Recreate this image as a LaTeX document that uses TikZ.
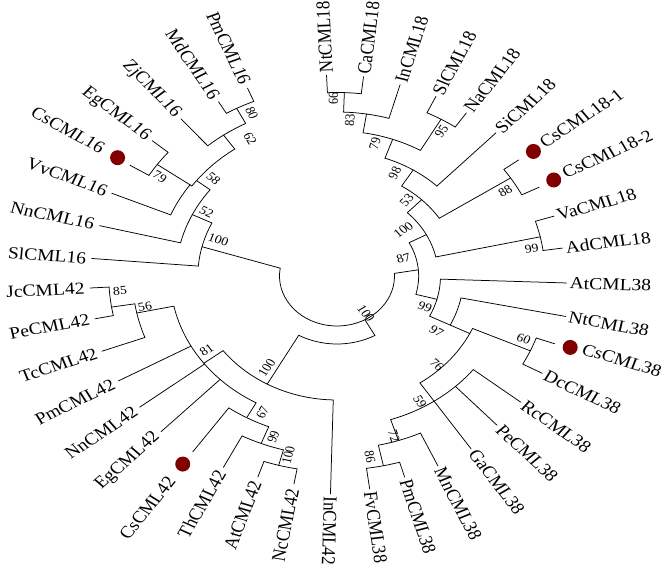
\documentclass[tikz,border=0pt]{standalone}
\usepackage{fontspec}
\setmainfont{Liberation Serif}
\definecolor{dotred}{RGB}{128,0,0}

\begin{document}
\begin{tikzpicture}[
	x=1pt, y=1pt,
	branch/.style={line width=0.75pt, draw=black, line cap=round},
	lab/.style={font=\fontsize{17}{17}\selectfont, transform shape},
	leafR/.style={lab, anchor=west, inner sep=2.5pt, rotate=#1},
	leafL/.style={lab, anchor=east, inner sep=4.5pt, rotate=#1+180},
	boot/.style={font=\fontsize{12}{12}\selectfont, transform shape, inner sep=0pt, rotate=#1},
	bootL/.style={boot=#1+180},
	dot/.style={circle, fill=dotred, inner sep=0pt, minimum size=15pt}
]
\useasboundingbox (0,0) rectangle (664,568);

\begin{scope}[shift={(337,292)}, xscale=1.15, branch]

% Root
\draw (171:50) arc[start angle=171, end angle=363, radius=50];

% CML16
\draw (171:50) -- (166:121);
\draw (154:121) arc[start angle=154, end angle=175.3, radius=121];
\draw (175.3:121) -- (175.3:214);
\draw (154:121) -- (154:140);
\draw (142:140) arc[start angle=142, end angle=166.3, radius=140];
\draw (166.3:140) -- (166.3:212.5);
\draw (142:140) -- (142:155);
\draw (125:155) arc[start angle=125, end angle=144.5, radius=155];
\draw (144.5:155) -- (144.5:157);
\draw (144.5:157) arc[start angle=144.5, end angle=157.1, radius=157];
\draw (157.1:157) -- (157.1:212.6);
\draw (144.5:157) -- (144.5:192);
\draw (139.9:192) arc[start angle=139.9, end angle=148.4, radius=192];
\draw (148.4:192) -- (148.4:211.5);
\draw (139.9:192) -- (139.9:210);
\draw (125:155) -- (125:172);
\draw (117.5:172) arc[start angle=117.5, end angle=130.8, radius=172];
\draw (130.8:172) -- (130.8:207.7);
\draw (117.5:172) -- (117.5:189);
\draw (112.5:189) arc[start angle=112.5, end angle=120.6, radius=189];
\draw (120.6:189) -- (120.6:202.4);
\draw (112.5:189) -- (112.5:203.3);

\node[leafL=175.3] (slcml16) at (175.3:214) {SlCML16};
\node[leafL=166.3] (nncml16) at (166.3:212.5) {NnCML16};
\node[leafL=157.1] (vvcml16) at (157.1:212.6) {VvCML16};
\node[dot] (dotcs16) at (148.2:224.5) {};
\node[leafL=148] (cscml16) at (148:235) {CsCML16};
\node[leafL=139.9] (egcml16) at (139.9:210) {EgCML16};
\node[leafL=130.8] (zjcml16) at (130.8:207.7) {ZjCML16};
\node[leafL=120.6] (mdcml16) at (120.6:202.4) {MdCML16};
\node[leafL=112.5] (pmcml16) at (112.5:203.3) {PmCML16};

\node[bootL=160.8] (bs16a) at (160.8:109.3) {100};
\node[bootL=150.4] (bs16b) at (150.4:130.3) {52};
\node[bootL=137.7] (bs16c) at (137.7:145.2) {58};
\node[bootL=147.2] (bs16d) at (147.2:183.2) {79};
\node[bootL=118.8] (bs16e) at (118.8:157) {62};
\node[bootL=114.5] (bs16f) at (114.5:178.8) {80};

% CML18
\draw (3:50) -- (5:71);
\draw (-15:71) arc[start angle=-15, end angle=28, radius=71];
\draw (28:71) -- (28:88);
\draw (12.5:88) arc[start angle=12.5, end angle=46, radius=88];
\draw (12.5:88) -- (12.5:181);
\draw (8.1:181) arc[start angle=8.1, end angle=17.6, radius=181];
\draw (17.6:181) -- (17.6:198);
\draw (8.1:181) -- (8.1:198);
\draw (46:88) -- (46:106);
\draw (33:106) arc[start angle=33, end angle=58, radius=106];
\draw (33:106) -- (33:180);
\draw (26.8:180) arc[start angle=26.8, end angle=36.3, radius=180];
\draw (36.3:180) -- (36.3:196);
\draw (26.8:180) -- (26.8:197);
\draw (58:106) -- (58:125);
\draw (46:125) arc[start angle=46, end angle=70.5, radius=125];
\draw (46:125) -- (46:199);
\draw (70.5:125) -- (70.5:145);
\draw (60:145) arc[start angle=60, end angle=81, radius=145];
\draw (60:145) -- (60:181);
\draw (55.4:181) arc[start angle=55.4, end angle=64.4, radius=181];
\draw (64.4:181) -- (64.4:199.2);
\draw (55.4:181) -- (55.4:198);
\draw (81:145) -- (81:164);
\draw (74:164) arc[start angle=74, end angle=88, radius=164];
\draw (74:164) -- (74:199);
\draw (88:164) -- (88:183.5);
\draw (83.4:183.5) arc[start angle=83.4, end angle=92.6, radius=183.5];
\draw (83.4:183.5) -- (83.4:200.6);
\draw (92.6:183.5) -- (92.6:201);

\node[leafR=92.6] (ntcml18) at (92.6:201) {NtCML18};
\node[leafR=83.4] (cacml18) at (83.4:200.6) {CaCML18};
\node[leafR=74] (incml18) at (74:199) {InCML18};
\node[leafR=64.4] (slcml18) at (64.4:199.2) {SlCML18};
\node[leafR=55.4] (nacml18) at (55.4:198) {NaCML18};
\node[leafR=46] (sicml18) at (46:199) {SiCML18};
\node[dot] (dotcs181) at (36.1:211.4) {};
\node[leafR=36.6] (cscml181) at (36.6:219) {CsCML18-1};
\node[dot] (dotcs182) at (27:211.5) {};
\node[leafR=27.4] (cscml182) at (27.4:219) {CsCML18-2};
\node[leafR=17.6] (vacml18) at (17.6:198) {VaCML18};
\node[leafR=8.1] (adcml18) at (8.1:198) {AdCML18};

\node[boot=17] (bs18a) at (17:60.4) {87};
\node[boot=38.6] (bs18b) at (38.6:73.8) {100};
\node[boot=51.4] (bs18c) at (51.4:97.2) {53};
\node[boot=63.9] (bs18d) at (63.9:114.4) {98};
\node[boot=76] (bs18e) at (76:136.7) {79};
\node[boot=85.9] (bs18f) at (85.9:156.4) {83};
\node[bootL=91] (bs18g) at (91:177.7) {99};
\node[boot=57.8] (bs18h) at (57.8:170.6) {95};
\node[boot=30] (bs18i) at (30:168.9) {88};
\node[boot=9.3] (bs18j) at (9.3:171.6) {99};

% CML38
\draw (-15:71) -- (-15:90);
\draw (-26.5:90) arc[start angle=-26.5, end angle=-2, radius=90];
\draw (-2:90) -- (-2:199.7);
\draw (-26.5:90) -- (-26.5:110);
\draw (-26.5:110) arc[start angle=-26.5, end angle=-11.5, radius=110];
\draw (-11.5:110) -- (-11.5:203);
\draw (-26.5:110) -- (-26.5:129);
\draw (-56:129) arc[start angle=-56, end angle=-24, radius=129];
\draw (-24:129) -- (-24:184);
\draw (-28.6:184) arc[start angle=-28.6, end angle=-19.7, radius=184];
\draw (-19.7:184) -- (-19.7:201);
\draw (-28.6:184) -- (-28.6:203.4);
\draw (-56:129) -- (-56:151);
\draw (-72:151) arc[start angle=-72, end angle=-38.3, radius=151];
\draw (-38.3:151) -- (-38.3:203.5);
\draw (-47:151) -- (-47:204);
\draw (-56:151) -- (-56:208.5);
\draw (-72:151) -- (-72:173);
\draw (-78:173) arc[start angle=-78, end angle=-65.2, radius=173];
\draw (-65.2:173) -- (-65.2:209.3);
\draw (-78:173) -- (-78:194);
\draw (-82.4:194) arc[start angle=-82.4, end angle=-73.7, radius=194];
\draw (-73.7:194) -- (-73.7:209.5);
\draw (-82.4:194) -- (-82.4:214.8);

\node[leafR=-2] (atcml38) at (-2:199.7) {AtCML38};
\node[leafR=-11.5] (ntcml38) at (-11.5:203) {NtCML38};
\node[dot] (dotcs38) at (-19.4:215) {};
\node[leafR=-18.8] (cscml38) at (-18.8:223) {CsCML38};
\node[leafR=-28.6] (dccml38) at (-28.6:203.4) {DcCML38};
\node[leafR=-38.3] (rccml38) at (-38.3:203.5) {RcCML38};
\node[leafR=-47] (pecml38) at (-47:204) {PeCML38};
\node[leafR=-56] (gacml38) at (-56:208.5) {GaCML38};
\node[leafR=-65.2] (mncml38) at (-65.2:209.3) {MnCML38};
\node[leafR=-73.7] (pmcml38) at (-73.7:209.5) {PmCML38};
\node[leafR=-82.4] (fvcml38) at (-82.4:214.8) {FvCML38};

\node[boot=-22] (bs38a) at (-22:82.5) {99};
\node[boot=-32.7] (bs38b) at (-32.7:103) {97};
\node[boot=-45.7] (bs38c) at (-45.7:124.4) {76};
\node[boot=-21.2] (bs38d) at (-21.2:174.1) {60};
\node[boot=-60.2] (bs38e) at (-60.2:145.2) {59};
\node[boot=-72.8] (bs38f) at (-72.8:167.5) {72};
\node[boot=-81] (bs38g) at (-81:183.3) {86};

% CML42
\draw (299:50) -- (299:68);
\draw (240.7:68) arc[start angle=240.7, end angle=299, radius=68];
\draw (240.7:68) -- (240.7:124);
\draw (217:124) arc[start angle=217, end angle=268.5, radius=124];
\draw (268.5:124) -- (268.5:218);
\draw (217:124) -- (217:145);
\draw (192:145) arc[start angle=192, end angle=241, radius=145];
\draw (208.9:145) -- (208.9:217.1);
\draw (217.4:145) -- (217.4:216);
\draw (225.5:145) -- (225.5:218.3);
\draw (192:145) -- (192:178);
\draw (189:178) arc[start angle=189, end angle=200.2, radius=178];
\draw (200.2:178) -- (200.2:217.8);
\draw (189:178) -- (189:198.5);
\draw (183.2:198.5) arc[start angle=183.2, end angle=191.5, radius=198.5];
\draw (183.2:198.5) -- (183.2:215.1);
\draw (191.5:198.5) -- (191.5:214.8);
\draw (241:145) -- (241:162);
\draw (234.5:162) arc[start angle=234.5, end angle=248.5, radius=162];
\draw (234.5:162) -- (234.5:216);
\draw (248.5:162) -- (248.5:180);
\draw (242.7:180) arc[start angle=242.7, end angle=255, radius=180];
\draw (242.7:180) -- (242.7:215.4);
\draw (255:180) -- (255:196);
\draw (251.1:196) arc[start angle=251.1, end angle=259.8, radius=196];
\draw (251.1:196) -- (251.1:212.6);
\draw (259.8:196) -- (259.8:211.2);

\node[leafL=183.2] (jccml42) at (183.2:215.1) {JcCML42};
\node[leafL=191.5] (pecml42) at (191.5:214.8) {PeCML42};
\node[leafL=200.2] (tccml42) at (200.2:217.8) {TcCML42};
\node[leafL=208.9] (pmcml42) at (208.9:217.1) {PmCML42};
\node[leafL=217.4] (nncml42) at (217.4:216) {NnCML42};
\node[leafL=225.5] (egcml42) at (225.5:218.3) {EgCML42};
\node[dot] (dotcs42) at (234.5:231) {};
\node[leafL=234.6] (cscml42) at (234.6:244) {CsCML42};
\node[leafL=242.7] (thcml42) at (242.7:215.4) {ThCML42};
\node[leafL=251.1] (atcml42) at (251.1:212.6) {AtCML42};
\node[leafL=259.8] (nccml42) at (259.8:211.2) {NcCML42};
\node[leafR=268.5] (incml42) at (268.5:218) {InCML42};

\node[boot=-56] (bs42a) at (-56:45) {100};
\node[bootL=236.5] (bs42b) at (236.5:110.7) {100};
\node[bootL=213.1] (bs42c) at (213.1:135.3) {81};
\node[bootL=190.4] (bs42d) at (190.4:169.8) {56};
\node[bootL=184.5] (bs42e) at (184.5:189.3) {85};
\node[bootL=244.6] (bs42f) at (244.6:151.1) {67};
\node[bootL=251] (bs42g) at (251:170) {99};
\node[bootL=256.7] (bs42h) at (256.7:184) {100};

\end{scope}
\end{tikzpicture}
\end{document}
